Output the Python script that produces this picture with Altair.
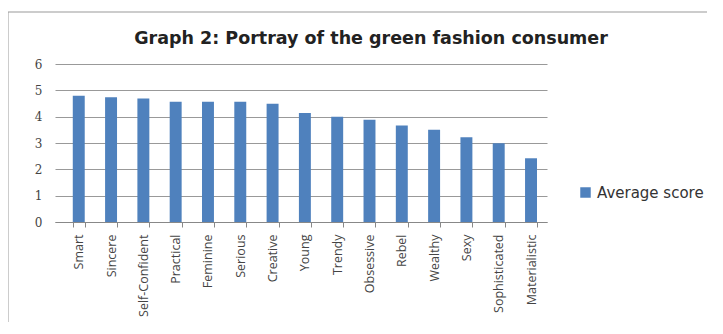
import altair as alt
import pandas as pd

categories = ["Smart", "Sincere", "Self-Confident", "Practical", "Feminine", "Serious",
              "Creative", "Young", "Trendy", "Obsessive", "Rebel", "Wealthy", "Sexy",
              "Sophisticated", "Materialistic"]
scores = [4.79, 4.74, 4.69, 4.57, 4.57, 4.57, 4.49, 4.14, 4.00, 3.88, 3.66, 3.50, 3.22, 2.99, 2.42]
series_name = "Average score"
y_ticks = [0, 1, 2, 3, 4, 5, 6]

df = pd.DataFrame({"trait": categories, "score": scores, "series": series_name})

bars = alt.Chart(df).mark_bar(color="#4F81BD").encode(
    x=alt.X("trait:N", sort=categories, title=None,
            scale=alt.Scale(paddingInner=0.63, paddingOuter=0.43, align=0.64),
            axis=alt.Axis(labelAngle=-90, labelFontSize=12.5, labelColor="#444",
                          labelFont="Open Sans", labelPadding=7, tickBand="extent",
                          tickSize=5, tickColor="#888", domainColor="#888",
                          labelBaseline="middle", labelAlign="right")),
    y=alt.Y("score:Q", title=None,
            scale=alt.Scale(domain=[0, 6]),
            axis=alt.Axis(values=y_ticks, labelFontSize=12, labelColor="#444",
                          labelFont="DejaVu Serif", labelPadding=13, ticks=False,
                          domain=False, gridColor="#999", gridWidth=1)),
    color=alt.Color("series:N", title=None,
                    scale=alt.Scale(range=["#4F81BD"]),
                    legend=alt.Legend(orient="none", legendX=523, legendY=121,
                                      symbolType="square", symbolSize=110,
                                      labelFontSize=15, labelFont="DejaVu Sans",
                                      labelColor="#333", symbolStrokeWidth=0)),
)

frame = alt.Chart(alt.Data(values=[{"f": 1}])).mark_rect(
    fillOpacity=0, stroke="#999", strokeWidth=1
).encode(
    x=alt.value(-47), x2=alt.value(1200), y=alt.value(-52), y2=alt.value(1200)
)

chart = alt.layer(frame, bars).properties(
    width=492, height=158,
    title=alt.TitleParams("Graph 2: Portray of the green fashion consumer",
                          fontSize=17.5, font="DejaVu Sans", fontWeight="bold",
                          color="#222", anchor="middle", dx=70, offset=-36),
    autosize=alt.AutoSizeParams(type="none"),
    padding={"left": 47, "top": 56, "right": 160, "bottom": 100},
).configure_view(stroke=None)

chart.save("out.html", embed_options={"renderer": "svg", "actions": False})
